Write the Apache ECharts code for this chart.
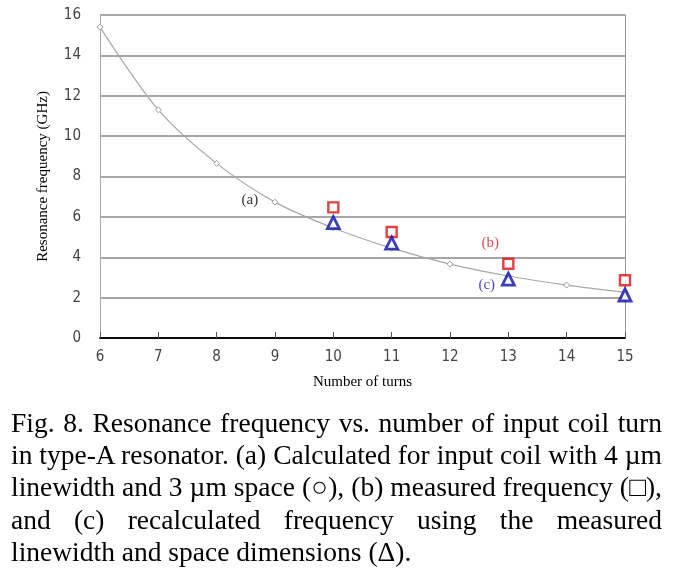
<!DOCTYPE html>
<html><head><meta charset="utf-8">
<script src="https://cdn.jsdelivr.net/npm/echarts@6/dist/echarts.min.js"></script>
<style>
html,body{margin:0;padding:0;background:#fff;}
#chart{position:absolute;left:0;top:0;width:679px;height:572px;}
#cap{position:absolute;left:11px;top:407px;width:651px;font-family:"Liberation Serif","Times New Roman",serif;font-size:27.5px;line-height:32.2px;color:#000;}
#cap div{text-align:justify;text-align-last:justify;white-space:nowrap;}
#cap div.last{text-align-last:left;}
</style></head>
<body>
<div id="chart"></div>
<div id="cap">
<div>Fig. 8. Resonance frequency vs. number of input coil turn</div>
<div>in type-A resonator. (a) Calculated for input coil with 4 µm</div>
<div>linewidth and 3 µm space (○), (b) measured frequency (□),</div>
<div>and (c) recalculated frequency using the measured</div>
<div class="last">linewidth and space dimensions (Δ).</div>
</div>
<script>
const turns = [6, 7, 8, 9, 10, 11, 12, 13, 14, 15];
const calculated = [15.4, 11.3, 8.65, 6.73, 5.45, 4.45, 3.66, 3.07, 2.62, 2.26];
const measuredTurns = [10, 11, 13, 15];
const measured = [6.47, 5.25, 3.68, 2.86];
const recalculated = [5.72, 4.7, 2.92, 2.13];
const annotTexts = ['(a)', '(b)', '(c)'];
const annotX = [8.57, 12.69, 12.63];
const annotY = [6.83, 4.7, 2.62];
const annotColors = ['#000000', '#d82020', '#1a1aa0'];

const tickFont = '"Liberation Sans Narrow", "DejaVu Sans Condensed", "Liberation Sans", sans-serif';

const chart = echarts.init(document.getElementById('chart'));
chart.setOption({
  animation: false,
  backgroundColor: '#fff',
  grid: {left: 100, right: 54, top: 15, bottom: 234},
  xAxis: [{
    type: 'value', min: 6, max: 15, interval: 1,
    name: 'Number of turns', nameLocation: 'middle', nameGap: 37,
    nameTextStyle: {fontFamily: 'Liberation Serif', fontSize: 15, color: '#000'},
    axisLine: {lineStyle: {color: '#000', width: 1.5}},
    axisTick: {show: true, inside: true, length: 6, lineStyle: {color: '#555'}},
    axisLabel: {fontFamily: tickFont, fontSize: 15, color: '#444', margin: 12},
    splitLine: {show: false}
  }, {
    type: 'value', min: 6, max: 15, interval: 1, position: 'top',
    axisLine: {show: true, lineStyle: {color: '#000', width: 1.5}},
    axisTick: {show: false}, axisLabel: {show: false}, splitLine: {show: false}
  }],
  yAxis: [{
    type: 'value', min: 0, max: 16, interval: 2,
    name: 'Resonance frequency (GHz)', nameLocation: 'middle', nameGap: 49,
    nameTextStyle: {fontFamily: 'Liberation Serif', fontSize: 15, color: '#000'},
    axisLine: {show: true, lineStyle: {color: '#aaa', width: 1}},
    axisTick: {show: false},
    axisLabel: {fontFamily: tickFont, fontSize: 15, color: '#444', margin: 19},
    splitLine: {lineStyle: {color: '#8a8a8a', width: 1.5}}
  }, {
    type: 'value', min: 0, max: 16, interval: 2, position: 'right',
    axisLine: {show: true, lineStyle: {color: '#999', width: 1}},
    axisTick: {show: false}, axisLabel: {show: false}, splitLine: {show: false}
  }],
  series: [
    {
      type: 'line', smooth: 0.3,
      data: turns.map((t, i) => [t, calculated[i]]),
      symbol: 'diamond', symbolSize: 6,
      itemStyle: {color: '#fff', borderColor: '#a0a0a0', borderWidth: 1},
      lineStyle: {color: '#a8a8a8', width: 1.2},
      z: 3
    },
    {
      type: 'scatter',
      data: measuredTurns.map((t, i) => [t, measured[i]]),
      symbol: 'rect', symbolSize: 10,
      itemStyle: {color: '#fff', borderColor: '#e01010', borderWidth: 2.4},
      z: 4
    },
    {
      type: 'scatter',
      data: measuredTurns.map((t, i) => [t, recalculated[i]]),
      symbol: 'triangle', symbolSize: 12,
      itemStyle: {color: '#fff', borderColor: '#0a10a8', borderWidth: 2.8},
      z: 5
    },
    {
      type: 'scatter', symbolSize: 0, silent: true,
      data: annotTexts.map((s, i) => ({
        value: [annotX[i], annotY[i]],
        label: {show: true, position: 'inside', formatter: s,
          fontFamily: 'Liberation Serif', fontSize: 15, color: annotColors[i]}
      })),
      z: 6
    }
  ]
});
</script>
</body></html>
